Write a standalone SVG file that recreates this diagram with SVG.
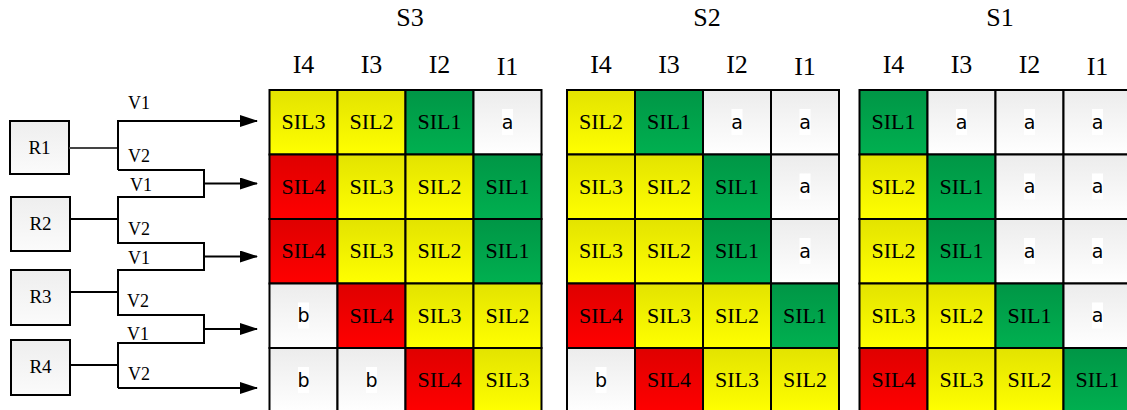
<svg xmlns="http://www.w3.org/2000/svg" width="1127" height="410" viewBox="0 0 1127 410">
<style>
.c{stroke:#000;stroke-width:2}
.y{fill:url(#gy)}.r{fill:url(#gr)}.g{fill:url(#gg)}.w{fill:url(#gw)}
.t{font-family:"Liberation Serif","Times New Roman",serif;font-size:22px;text-anchor:middle;fill:#000}
.s{font-family:"DejaVu Sans","Verdana",sans-serif;font-size:19px;text-anchor:middle;fill:#000}
.h{font-family:"Liberation Serif","Times New Roman",serif;font-size:26px;text-anchor:middle;fill:#000}
.v{font-family:"Liberation Serif","Times New Roman",serif;font-size:18px;fill:#000}
.bg{fill:#fff}
.box{fill:url(#gb);stroke:#000;stroke-width:2}
.ln{fill:none;stroke:#000;stroke-width:2}
</style>
<defs>
<linearGradient id="gy" x1="0" y1="0" x2="0" y2="1"><stop offset="0" stop-color="#e3e300"/><stop offset="1" stop-color="#ffff00"/></linearGradient>
<linearGradient id="gr" x1="0" y1="0" x2="0" y2="1"><stop offset="0" stop-color="#df0000"/><stop offset="1" stop-color="#ff0000"/></linearGradient>
<linearGradient id="gg" x1="0" y1="0" x2="0" y2="1"><stop offset="0" stop-color="#009646"/><stop offset="1" stop-color="#00b050"/></linearGradient>
<linearGradient id="gw" x1="0" y1="0" x2="0" y2="1"><stop offset="0" stop-color="#ececec"/><stop offset="1" stop-color="#ffffff"/></linearGradient>
<linearGradient id="gb" x1="0" y1="0" x2="0" y2="1"><stop offset="0" stop-color="#eeeeee"/><stop offset="1" stop-color="#fbfbfb"/></linearGradient>
<marker id="arr" markerWidth="18" markerHeight="12" refX="17" refY="6" orient="auto" markerUnits="userSpaceOnUse"><path d="M0,0 L18,6 L0,12 z" fill="#000"/></marker>
</defs>
<rect width="1127" height="410" fill="#fff"/>

<!-- headers -->
<g id="headers">
<text class="h" x="410" y="26">S3</text>
<text class="h" x="707" y="26">S2</text>
<text class="h" x="1000" y="26">S1</text>
<text class="h" x="303.5" y="73">I4</text><text class="h" x="371.5" y="73">I3</text><text class="h" x="439.5" y="73">I2</text><text class="h" x="507.5" y="75">I1</text>
<text class="h" x="601" y="73">I4</text><text class="h" x="669" y="73">I3</text><text class="h" x="737" y="73">I2</text><text class="h" x="805" y="75">I1</text>
<text class="h" x="893.5" y="73">I4</text><text class="h" x="961.5" y="73">I3</text><text class="h" x="1029.5" y="73">I2</text><text class="h" x="1097.5" y="75">I1</text>
</g>

<!-- R nodes -->
<g id="R1"><rect class="box" x="10" y="121" width="59" height="53"/><text class="v" style="font-size:19px;text-anchor:middle" x="39.5" y="154">R1</text></g>
<g id="R2"><rect class="box" x="11" y="197" width="59" height="54"/><text class="v" style="font-size:19px;text-anchor:middle" x="40.5" y="230">R2</text></g>
<g id="R3"><rect class="box" x="11" y="270" width="59" height="55"/><text class="v" style="font-size:19px;text-anchor:middle" x="40.5" y="303">R3</text></g>
<g id="R4"><rect class="box" x="11" y="340" width="59" height="55"/><text class="v" style="font-size:19px;text-anchor:middle" x="40.5" y="373">R4</text></g>

<!-- connectors -->
<g id="connectors">
<path d="M69,148 H118" fill="none" stroke="#444" stroke-width="2"/>
<path class="ln" d="M118,170 V121 H257" marker-end="url(#arr)"/>
<path class="ln" d="M118,170 H204 V197 H118 V243 H204 V270 H118 V315 H204 V343 H118 V388"/>
<path class="ln" d="M118,388 H257" marker-end="url(#arr)"/>
<path class="ln" d="M204,183.5 H257" marker-end="url(#arr)"/>
<path class="ln" d="M204,256.5 H257" marker-end="url(#arr)"/>
<path class="ln" d="M204,329 H257" marker-end="url(#arr)"/>
<path class="ln" d="M70,219 H118"/>
<path class="ln" d="M70,292 H118"/>
<path class="ln" d="M70,365 H118"/>
<text class="v" x="128" y="109">V1</text>
<text class="v" x="128" y="162">V2</text>
<text class="v" x="130" y="191">V1</text>
<text class="v" x="128" y="235">V2</text>
<text class="v" x="128" y="264">V1</text>
<text class="v" x="127" y="307">V2</text>
<text class="v" x="127" y="340">V1</text>
<text class="v" x="128" y="380">V2</text>
</g>

<!-- S3 grid -->
<g id="S3">
<g id="s3-1-4"><rect class="c y" x="269.5" y="90" width="68" height="64.5"/><text class="t" x="303.5" y="129">SIL3</text></g>
<g id="s3-1-3"><rect class="c y" x="337.5" y="90" width="68" height="64.5"/><text class="t" x="371.5" y="129">SIL2</text></g>
<g id="s3-1-2"><rect class="c g" x="405.5" y="90" width="68" height="64.5"/><text class="t" x="439.5" y="129">SIL1</text></g>
<g id="s3-1-1"><rect class="c w" x="473.5" y="90" width="68" height="64.5"/><rect class="bg" x="502" y="109" width="11" height="26"/><text class="s" x="507.5" y="128.5">a</text></g>

<g id="s3-2-4"><rect class="c r" x="269.5" y="154.5" width="68" height="64.5"/><text class="t" x="303.5" y="193.5">SIL4</text></g>
<g id="s3-2-3"><rect class="c y" x="337.5" y="154.5" width="68" height="64.5"/><text class="t" x="371.5" y="193.5">SIL3</text></g>
<g id="s3-2-2"><rect class="c y" x="405.5" y="154.5" width="68" height="64.5"/><text class="t" x="439.5" y="193.5">SIL2</text></g>
<g id="s3-2-1"><rect class="c g" x="473.5" y="154.5" width="68" height="64.5"/><text class="t" x="507.5" y="193.5">SIL1</text></g>

<g id="s3-3-4"><rect class="c r" x="269.5" y="219" width="68" height="64.5"/><text class="t" x="303.5" y="258">SIL4</text></g>
<g id="s3-3-3"><rect class="c y" x="337.5" y="219" width="68" height="64.5"/><text class="t" x="371.5" y="258">SIL3</text></g>
<g id="s3-3-2"><rect class="c y" x="405.5" y="219" width="68" height="64.5"/><text class="t" x="439.5" y="258">SIL2</text></g>
<g id="s3-3-1"><rect class="c g" x="473.5" y="219" width="68" height="64.5"/><text class="t" x="507.5" y="258">SIL1</text></g>

<g id="s3-4-4"><rect class="c w" x="269.5" y="283.5" width="68" height="64.5"/><rect class="bg" x="298" y="302.5" width="11" height="26"/><text class="s" x="303.5" y="322">b</text></g>
<g id="s3-4-3"><rect class="c r" x="337.5" y="283.5" width="68" height="64.5"/><text class="t" x="371.5" y="322.5">SIL4</text></g>
<g id="s3-4-2"><rect class="c y" x="405.5" y="283.5" width="68" height="64.5"/><text class="t" x="439.5" y="322.5">SIL3</text></g>
<g id="s3-4-1"><rect class="c y" x="473.5" y="283.5" width="68" height="64.5"/><text class="t" x="507.5" y="322.5">SIL2</text></g>

<g id="s3-5-4"><rect class="c w" x="269.5" y="348" width="68" height="64.5"/><rect class="bg" x="298" y="367" width="11" height="26"/><text class="s" x="303.5" y="386.5">b</text></g>
<g id="s3-5-3"><rect class="c w" x="337.5" y="348" width="68" height="64.5"/><rect class="bg" x="366" y="367" width="11" height="26"/><text class="s" x="371.5" y="386.5">b</text></g>
<g id="s3-5-2"><rect class="c r" x="405.5" y="348" width="68" height="64.5"/><text class="t" x="439.5" y="387">SIL4</text></g>
<g id="s3-5-1"><rect class="c y" x="473.5" y="348" width="68" height="64.5"/><text class="t" x="507.5" y="387">SIL3</text></g>
</g>

<!-- S2 grid -->
<g id="S2">
<g id="s2-1-4"><rect class="c y" x="567" y="90" width="68" height="64.5"/><text class="t" x="601" y="129">SIL2</text></g>
<g id="s2-1-3"><rect class="c g" x="635" y="90" width="68" height="64.5"/><text class="t" x="669" y="129">SIL1</text></g>
<g id="s2-1-2"><rect class="c w" x="703" y="90" width="68" height="64.5"/><rect class="bg" x="731.5" y="109" width="11" height="26"/><text class="s" x="737" y="128.5">a</text></g>
<g id="s2-1-1"><rect class="c w" x="771" y="90" width="68" height="64.5"/><rect class="bg" x="799.5" y="109" width="11" height="26"/><text class="s" x="805" y="128.5">a</text></g>

<g id="s2-2-4"><rect class="c y" x="567" y="154.5" width="68" height="64.5"/><text class="t" x="601" y="193.5">SIL3</text></g>
<g id="s2-2-3"><rect class="c y" x="635" y="154.5" width="68" height="64.5"/><text class="t" x="669" y="193.5">SIL2</text></g>
<g id="s2-2-2"><rect class="c g" x="703" y="154.5" width="68" height="64.5"/><text class="t" x="737" y="193.5">SIL1</text></g>
<g id="s2-2-1"><rect class="c w" x="771" y="154.5" width="68" height="64.5"/><rect class="bg" x="799.5" y="173.5" width="11" height="26"/><text class="s" x="805" y="193">a</text></g>

<g id="s2-3-4"><rect class="c y" x="567" y="219" width="68" height="64.5"/><text class="t" x="601" y="258">SIL3</text></g>
<g id="s2-3-3"><rect class="c y" x="635" y="219" width="68" height="64.5"/><text class="t" x="669" y="258">SIL2</text></g>
<g id="s2-3-2"><rect class="c g" x="703" y="219" width="68" height="64.5"/><text class="t" x="737" y="258">SIL1</text></g>
<g id="s2-3-1"><rect class="c w" x="771" y="219" width="68" height="64.5"/><rect class="bg" x="799.5" y="238" width="11" height="26"/><text class="s" x="805" y="257.5">a</text></g>

<g id="s2-4-4"><rect class="c r" x="567" y="283.5" width="68" height="64.5"/><text class="t" x="601" y="322.5">SIL4</text></g>
<g id="s2-4-3"><rect class="c y" x="635" y="283.5" width="68" height="64.5"/><text class="t" x="669" y="322.5">SIL3</text></g>
<g id="s2-4-2"><rect class="c y" x="703" y="283.5" width="68" height="64.5"/><text class="t" x="737" y="322.5">SIL2</text></g>
<g id="s2-4-1"><rect class="c g" x="771" y="283.5" width="68" height="64.5"/><text class="t" x="805" y="322.5">SIL1</text></g>

<g id="s2-5-4"><rect class="c w" x="567" y="348" width="68" height="64.5"/><rect class="bg" x="595.5" y="367" width="11" height="26"/><text class="s" x="601" y="386.5">b</text></g>
<g id="s2-5-3"><rect class="c r" x="635" y="348" width="68" height="64.5"/><text class="t" x="669" y="387">SIL4</text></g>
<g id="s2-5-2"><rect class="c y" x="703" y="348" width="68" height="64.5"/><text class="t" x="737" y="387">SIL3</text></g>
<g id="s2-5-1"><rect class="c y" x="771" y="348" width="68" height="64.5"/><text class="t" x="805" y="387">SIL2</text></g>
</g>

<!-- S1 grid -->
<g id="S1">
<g id="s1-1-4"><rect class="c g" x="859.5" y="90" width="68" height="64.5"/><text class="t" x="893.5" y="129">SIL1</text></g>
<g id="s1-1-3"><rect class="c w" x="927.5" y="90" width="68" height="64.5"/><rect class="bg" x="956" y="109" width="11" height="26"/><text class="s" x="961.5" y="128.5">a</text></g>
<g id="s1-1-2"><rect class="c w" x="995.5" y="90" width="68" height="64.5"/><rect class="bg" x="1024" y="109" width="11" height="26"/><text class="s" x="1029.5" y="128.5">a</text></g>
<g id="s1-1-1"><rect class="c w" x="1063.5" y="90" width="68" height="64.5"/><rect class="bg" x="1092" y="109" width="11" height="26"/><text class="s" x="1097.5" y="128.5">a</text></g>

<g id="s1-2-4"><rect class="c y" x="859.5" y="154.5" width="68" height="64.5"/><text class="t" x="893.5" y="193.5">SIL2</text></g>
<g id="s1-2-3"><rect class="c g" x="927.5" y="154.5" width="68" height="64.5"/><text class="t" x="961.5" y="193.5">SIL1</text></g>
<g id="s1-2-2"><rect class="c w" x="995.5" y="154.5" width="68" height="64.5"/><rect class="bg" x="1024" y="173.5" width="11" height="26"/><text class="s" x="1029.5" y="193">a</text></g>
<g id="s1-2-1"><rect class="c w" x="1063.5" y="154.5" width="68" height="64.5"/><rect class="bg" x="1092" y="173.5" width="11" height="26"/><text class="s" x="1097.5" y="193">a</text></g>

<g id="s1-3-4"><rect class="c y" x="859.5" y="219" width="68" height="64.5"/><text class="t" x="893.5" y="258">SIL2</text></g>
<g id="s1-3-3"><rect class="c g" x="927.5" y="219" width="68" height="64.5"/><text class="t" x="961.5" y="258">SIL1</text></g>
<g id="s1-3-2"><rect class="c w" x="995.5" y="219" width="68" height="64.5"/><rect class="bg" x="1024" y="238" width="11" height="26"/><text class="s" x="1029.5" y="257.5">a</text></g>
<g id="s1-3-1"><rect class="c w" x="1063.5" y="219" width="68" height="64.5"/><rect class="bg" x="1092" y="238" width="11" height="26"/><text class="s" x="1097.5" y="257.5">a</text></g>

<g id="s1-4-4"><rect class="c y" x="859.5" y="283.5" width="68" height="64.5"/><text class="t" x="893.5" y="322.5">SIL3</text></g>
<g id="s1-4-3"><rect class="c y" x="927.5" y="283.5" width="68" height="64.5"/><text class="t" x="961.5" y="322.5">SIL2</text></g>
<g id="s1-4-2"><rect class="c g" x="995.5" y="283.5" width="68" height="64.5"/><text class="t" x="1029.5" y="322.5">SIL1</text></g>
<g id="s1-4-1"><rect class="c w" x="1063.5" y="283.5" width="68" height="64.5"/><rect class="bg" x="1092" y="302.5" width="11" height="26"/><text class="s" x="1097.5" y="322">a</text></g>

<g id="s1-5-4"><rect class="c r" x="859.5" y="348" width="68" height="64.5"/><text class="t" x="893.5" y="387">SIL4</text></g>
<g id="s1-5-3"><rect class="c y" x="927.5" y="348" width="68" height="64.5"/><text class="t" x="961.5" y="387">SIL3</text></g>
<g id="s1-5-2"><rect class="c y" x="995.5" y="348" width="68" height="64.5"/><text class="t" x="1029.5" y="387">SIL2</text></g>
<g id="s1-5-1"><rect class="c g" x="1063.5" y="348" width="68" height="64.5"/><text class="t" x="1097.5" y="387">SIL1</text></g>
</g>
</svg>
